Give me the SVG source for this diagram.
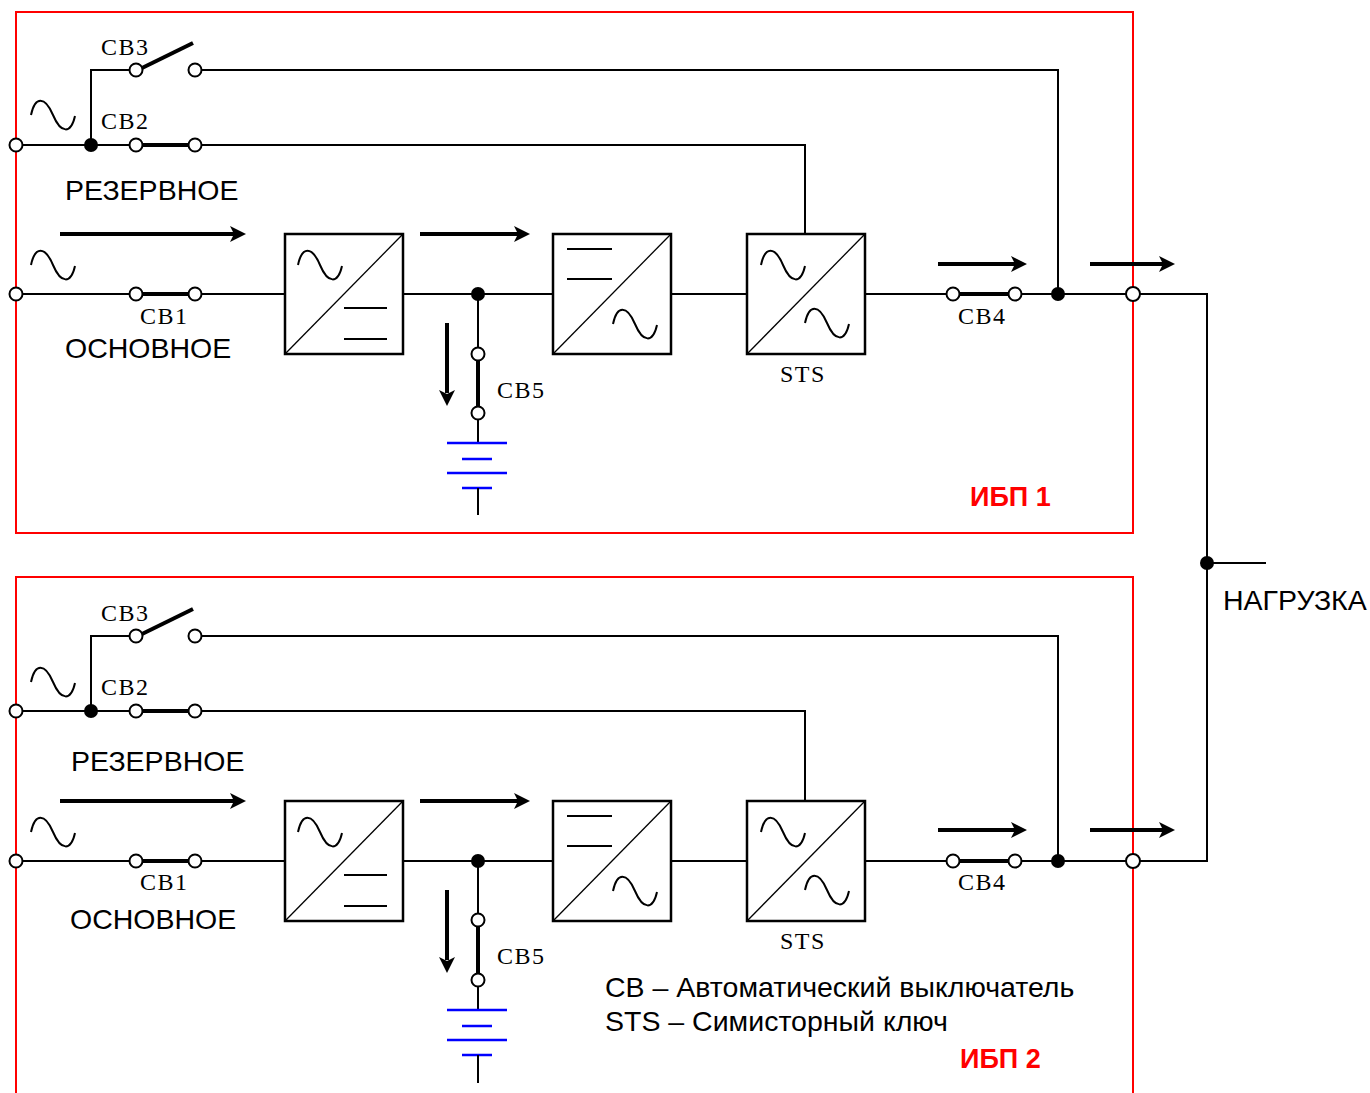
<svg xmlns="http://www.w3.org/2000/svg" width="1370" height="1093" viewBox="0 0 1370 1093">
<style>
.w{fill:none;stroke:#000;stroke-width:2}
.thick{fill:none;stroke:#000;stroke-width:4}
.frame{fill:none;stroke:#ff0000;stroke-width:2}
.blk{fill:#fff;stroke:#000;stroke-width:2.5}
.diag{stroke:#000;stroke-width:1.3}
.sine{fill:none;stroke:#000;stroke-width:2}
.term{fill:#fff;stroke:#000;stroke-width:2}
.dot{fill:#000}
.bat{stroke:#0000ff;stroke-width:2.5}
.lbl{font-family:"Liberation Serif",serif;font-size:24px;fill:#000;letter-spacing:1.5px}
.big{font-family:"Liberation Sans",Arial,sans-serif;font-size:28.5px;fill:#000}
.ups{font-family:"Liberation Sans",Arial,sans-serif;font-size:27px;font-weight:bold;fill:#ff0000}
.arr{fill:none;stroke:#000;stroke-width:4}
.ah{fill:#000}
</style>
<defs>
<path id="sine" class="sine" d="M0,15 C4,-4 14,-4 22,15 C30,34 40,34 44,16"/>
<g id="rarrow"><path d="M-16,-8 L0,0 L-16,8 L-12,0 Z" class="ah"/></g>
</defs>

<g id="frames">
<rect id="frame1" class="frame" x="16" y="12" width="1117" height="521"/>
<path id="frame2" class="frame" d="M16,1093 V577 H1133 V1093"/>
</g>

<g id="connectors">
<path class="w" d="M16,145 H136 M195,145 H805 V234"/>
<path class="w" d="M91,145 V70 H136 M195,70 H1058 V294"/>
<path class="w" d="M16,294 H136 M195,294 H285 M403,294 H553 M671,294 H747 M865,294 H953 M1015,294 H1207 V861 H1133"/>
<path class="w" d="M478,294 V354 M478,413 V443"/>
<path class="w" d="M1207,563 H1266"/>
<path class="w" d="M16,711 H136 M195,711 H805 V801"/>
<path class="w" d="M91,711 V636 H136 M195,636 H1058 V861"/>
<path class="w" d="M16,861 H136 M195,861 H285 M403,861 H553 M671,861 H747 M865,861 H953 M1015,861 H1133"/>
<path class="w" d="M478,861 V920 M478,980 V1010"/>
<path class="arr" d="M60,234 H234"/><use href="#rarrow" transform="translate(246,234)"/>
<path class="arr" d="M420,234 H518"/><use href="#rarrow" transform="translate(530,234)"/>
<path class="arr" d="M938,264 H1015"/><use href="#rarrow" transform="translate(1027,264)"/>
<path class="arr" d="M1090,264 H1163"/><use href="#rarrow" transform="translate(1175,264)"/>
<path class="arr" d="M447,323 V393"/><use href="#rarrow" transform="translate(447,406) rotate(90)"/>
<path class="arr" d="M60,801 H234"/><use href="#rarrow" transform="translate(246,801)"/>
<path class="arr" d="M420,801 H518"/><use href="#rarrow" transform="translate(530,801)"/>
<path class="arr" d="M938,830 H1015"/><use href="#rarrow" transform="translate(1027,830)"/>
<path class="arr" d="M1090,830 H1163"/><use href="#rarrow" transform="translate(1175,830)"/>
<path class="arr" d="M447,890 V960"/><use href="#rarrow" transform="translate(447,973) rotate(90)"/>
</g>

<g id="ups1">
<g id="u1-src-reserve">
<use href="#sine" transform="translate(31,100)"/>
<circle class="term" cx="16" cy="145" r="6.5"/>
<circle class="dot" cx="91" cy="145" r="7"/>
<text class="big" x="65" y="200">РЕЗЕРВНОЕ</text>
</g>
<g id="u1-cb3">
<line class="thick" x1="140" y1="69" x2="193" y2="43" stroke-width="3.5"/>
<circle class="term" cx="136" cy="70" r="6.5"/>
<circle class="term" cx="195" cy="70" r="6.5"/>
<text class="lbl" x="101" y="55">CB3</text>
</g>
<g id="u1-cb2">
<line class="thick" x1="136" y1="145" x2="195" y2="145"/>
<circle class="term" cx="136" cy="145" r="6.5"/>
<circle class="term" cx="195" cy="145" r="6.5"/>
<text class="lbl" x="101" y="129">CB2</text>
</g>
<g id="u1-src-main">
<use href="#sine" transform="translate(31,250)"/>
<circle class="term" cx="16" cy="294" r="6.5"/>
<text class="big" x="65" y="358">ОСНОВНОЕ</text>
</g>
<g id="u1-cb1">
<line class="thick" x1="136" y1="294" x2="195" y2="294"/>
<circle class="term" cx="136" cy="294" r="6.5"/>
<circle class="term" cx="195" cy="294" r="6.5"/>
<text class="lbl" x="140" y="324">CB1</text>
</g>
<g id="u1-rectifier">
<rect class="blk" x="285" y="234" width="118" height="120"/>
<line class="diag" x1="285" y1="354" x2="403" y2="234"/>
<use href="#sine" transform="translate(298,250)"/>
<path class="w" d="M344,308 H387 M344,339 H387"/>
</g>
<g id="u1-dcbus">
<circle class="dot" cx="478" cy="294" r="7"/>
</g>
<g id="u1-inverter">
<rect class="blk" x="553" y="234" width="118" height="120"/>
<line class="diag" x1="553" y1="354" x2="671" y2="234"/>
<path class="w" d="M567,249 H612 M567,279 H612"/>
<use href="#sine" transform="translate(613,309)"/>
</g>
<g id="u1-sts">
<rect class="blk" x="747" y="234" width="118" height="120"/>
<line class="diag" x1="747" y1="354" x2="865" y2="234"/>
<use href="#sine" transform="translate(761,250)"/>
<use href="#sine" transform="translate(805,308)"/>
<text class="lbl" x="780" y="382">STS</text>
</g>
<g id="u1-cb4">
<line class="thick" x1="953" y1="294" x2="1015" y2="294"/>
<circle class="term" cx="953" cy="294" r="6.5"/>
<circle class="term" cx="1015" cy="294" r="6.5"/>
<text class="lbl" x="958" y="324">CB4</text>
</g>
<g id="u1-out">
<circle class="dot" cx="1058" cy="294" r="7"/>
<circle class="term" cx="1133" cy="294" r="7"/>
</g>
<g id="u1-cb5">
<line class="thick" x1="478" y1="354" x2="478" y2="413"/>
<circle class="term" cx="478" cy="354" r="6.5"/>
<circle class="term" cx="478" cy="413" r="6.5"/>
<text class="lbl" x="497" y="398">CB5</text>
</g>
<g id="u1-battery">
<path class="bat" d="M447,443 H507 M462,459 H492 M447,473 H507 M462,488 H492"/>
<line class="w" x1="478" y1="488" x2="478" y2="515"/>
</g>
<text id="u1-title" class="ups" x="970" y="506">ИБП 1</text>
</g>

<g id="ups2">
<g id="u2-src-reserve">
<use href="#sine" transform="translate(31,667)"/>
<circle class="term" cx="16" cy="711" r="6.5"/>
<circle class="dot" cx="91" cy="711" r="7"/>
<text class="big" x="71" y="771">РЕЗЕРВНОЕ</text>
</g>
<g id="u2-cb3">
<line class="thick" x1="140" y1="635" x2="193" y2="609" stroke-width="3.5"/>
<circle class="term" cx="136" cy="636" r="6.5"/>
<circle class="term" cx="195" cy="636" r="6.5"/>
<text class="lbl" x="101" y="621">CB3</text>
</g>
<g id="u2-cb2">
<line class="thick" x1="136" y1="711" x2="195" y2="711"/>
<circle class="term" cx="136" cy="711" r="6.5"/>
<circle class="term" cx="195" cy="711" r="6.5"/>
<text class="lbl" x="101" y="695">CB2</text>
</g>
<g id="u2-src-main">
<use href="#sine" transform="translate(31,817)"/>
<circle class="term" cx="16" cy="861" r="6.5"/>
<text class="big" x="70" y="929">ОСНОВНОЕ</text>
</g>
<g id="u2-cb1">
<line class="thick" x1="136" y1="861" x2="195" y2="861"/>
<circle class="term" cx="136" cy="861" r="6.5"/>
<circle class="term" cx="195" cy="861" r="6.5"/>
<text class="lbl" x="140" y="890">CB1</text>
</g>
<g id="u2-rectifier">
<rect class="blk" x="285" y="801" width="118" height="120"/>
<line class="diag" x1="285" y1="921" x2="403" y2="801"/>
<use href="#sine" transform="translate(298,817)"/>
<path class="w" d="M344,875 H387 M344,906 H387"/>
</g>
<g id="u2-dcbus">
<circle class="dot" cx="478" cy="861" r="7"/>
</g>
<g id="u2-inverter">
<rect class="blk" x="553" y="801" width="118" height="120"/>
<line class="diag" x1="553" y1="921" x2="671" y2="801"/>
<path class="w" d="M567,816 H612 M567,846 H612"/>
<use href="#sine" transform="translate(613,876)"/>
</g>
<g id="u2-sts">
<rect class="blk" x="747" y="801" width="118" height="120"/>
<line class="diag" x1="747" y1="921" x2="865" y2="801"/>
<use href="#sine" transform="translate(761,817)"/>
<use href="#sine" transform="translate(805,875)"/>
<text class="lbl" x="780" y="949">STS</text>
</g>
<g id="u2-cb4">
<line class="thick" x1="953" y1="861" x2="1015" y2="861"/>
<circle class="term" cx="953" cy="861" r="6.5"/>
<circle class="term" cx="1015" cy="861" r="6.5"/>
<text class="lbl" x="958" y="890">CB4</text>
</g>
<g id="u2-out">
<circle class="dot" cx="1058" cy="861" r="7"/>
<circle class="term" cx="1133" cy="861" r="7"/>
</g>
<g id="u2-cb5">
<line class="thick" x1="478" y1="920" x2="478" y2="980"/>
<circle class="term" cx="478" cy="920" r="6.5"/>
<circle class="term" cx="478" cy="980" r="6.5"/>
<text class="lbl" x="497" y="964">CB5</text>
</g>
<g id="u2-battery">
<path class="bat" d="M447,1010 H507 M462,1026 H492 M447,1040 H507 M462,1055 H492"/>
<line class="w" x1="478" y1="1055" x2="478" y2="1083"/>
</g>
<text id="u2-title" class="ups" x="960" y="1068">ИБП 2</text>
</g>

<g id="load">
<circle class="dot" cx="1207" cy="563" r="7"/>
<text class="big" x="1223" y="610">НАГРУЗКА</text>
</g>

<g id="legend">
<text class="big" x="605" y="997">CB – Автоматический выключатель</text>
<text class="big" x="605" y="1031">STS – Симисторный ключ</text>
</g>
</svg>
